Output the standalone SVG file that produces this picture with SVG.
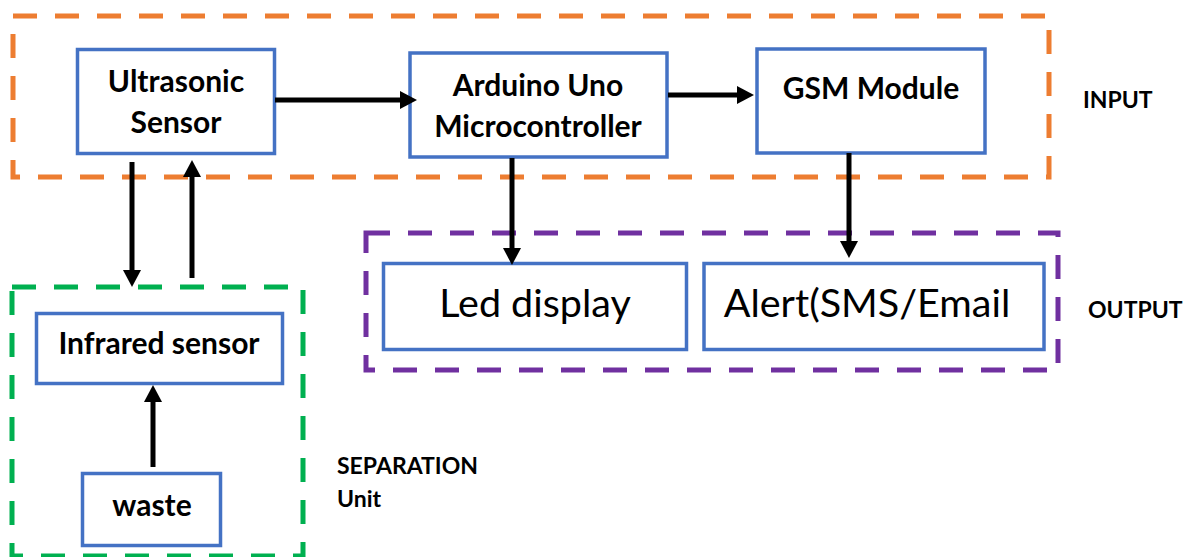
<svg xmlns="http://www.w3.org/2000/svg" width="1184" height="557" viewBox="0 0 1184 557">
<style>
.bg{fill:#ffffff}
.grp{fill:none;stroke-width:5;stroke-dasharray:24 18}
.node{fill:#ffffff;stroke:#4472C4;stroke-width:3.5}
.nt{font-family:Lato,"Open Sans",sans-serif;font-weight:bold;font-size:30px;fill:#000;text-anchor:middle}
.big{font-family:Lato,"Open Sans",sans-serif;font-size:39.5px;fill:#000;text-anchor:middle}
.lab{font-family:Lato,"Open Sans",sans-serif;font-weight:bold;font-size:23px;fill:#000}
.conn{stroke:#000;stroke-width:5;fill:none;marker-end:url(#ah)}
</style>
<defs>
<marker id="ah" markerUnits="userSpaceOnUse" markerWidth="18" markerHeight="18" refX="0" refY="9" orient="auto" viewBox="0 0 18 18">
<path d="M0,0 L17,9 L0,18 z" fill="#000"/>
</marker>
</defs>
<rect class="bg" x="0" y="0" width="1184" height="557"/>
<g id="groups">
<rect id="input-group" class="grp" x="13" y="16" width="1036" height="161" stroke="#ED7D31"/>
<rect id="output-group" class="grp" x="366" y="233" width="692" height="137" stroke="#7030A0"/>
<rect id="separation-group" class="grp" x="12" y="287" width="291" height="269" stroke="#00B050"/>
</g>
<g id="ultrasonic">
<rect class="node" x="77.5" y="49.5" width="197" height="104"/>
<text class="nt" x="176" y="92">Ultrasonic</text>
<text class="nt" x="176" y="133">Sensor</text>
</g>
<g id="arduino">
<rect class="node" x="410" y="53" width="257" height="104"/>
<text class="nt" x="538" y="96">Arduino Uno</text>
<text class="nt" x="538" y="137">Microcontroller</text>
</g>
<g id="gsm">
<rect class="node" x="757" y="49" width="228" height="104"/>
<text class="nt" x="871" y="99">GSM Module</text>
</g>
<g id="led">
<rect class="node" x="383.5" y="263.5" width="303" height="86"/>
<text class="big" x="535" y="317">Led display</text>
</g>
<g id="alert">
<rect class="node" x="704" y="263.5" width="340" height="86"/>
<text class="big" x="867" y="317">Alert(SMS/Email</text>
</g>
<g id="infrared">
<rect class="node" x="36.5" y="313.5" width="246" height="70"/>
<text class="nt" x="159" y="354">Infrared sensor</text>
</g>
<g id="waste">
<rect class="node" x="82.5" y="473.5" width="138" height="72"/>
<text class="nt" x="152" y="516">waste</text>
</g>
<g id="labels">
<text class="lab" x="1083" y="108">INPUT</text>
<text class="lab" x="1088" y="318">OUTPUT</text>
<text class="lab" x="337" y="474">SEPARATION</text>
<text class="lab" x="337" y="507">Unit</text>
</g>
<g id="connectors">
<line class="conn" x1="275" y1="100" x2="400" y2="100"/>
<line class="conn" x1="668" y1="95" x2="737" y2="95"/>
<line class="conn" x1="512" y1="158" x2="512" y2="248"/>
<line class="conn" x1="849" y1="153" x2="849" y2="241"/>
<line class="conn" x1="132" y1="162" x2="132" y2="270"/>
<line class="conn" x1="192" y1="278" x2="192" y2="177"/>
<line class="conn" x1="153" y1="467" x2="153" y2="402"/>
</g>
</svg>
